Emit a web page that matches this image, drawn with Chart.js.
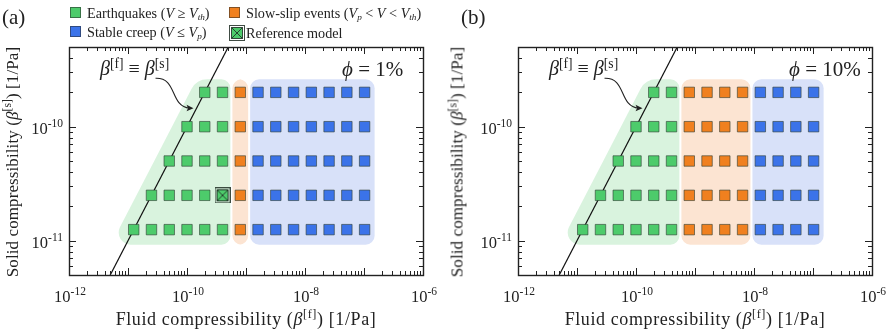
<!DOCTYPE html>
<html>
<head>
<meta charset="utf-8">
<script src="https://cdn.jsdelivr.net/npm/chart.js@4/dist/chart.umd.min.js"></script>
<style>
  html, body { margin:0; padding:0; background:#fff; }
  #wrap { position:relative; width:890px; height:335px; overflow:hidden; font-family:"Liberation Serif", serif; color:#222; }
  canvas { position:absolute; top:0; }
  .t { position:absolute; white-space:nowrap; line-height:1; }
  .box { display:inline-block; width:9px; height:9px; border:1px solid rgba(40,40,40,0.55); margin-right:6px; vertical-align:0px; }
  .rot { transform: translate(-50%,-50%) rotate(-90deg); }
  .ctr { transform: translate(-50%,-50%); }
  sup { font-size:68%; vertical-align: 0.55em; line-height:0; }
  sub { font-size:65%; vertical-align: -0.25em; line-height:0; }
</style>
</head>
<body>
<div id="wrap">
  <canvas id="c1" width="445" height="335" style="left:0"></canvas>
  <canvas id="c2" width="445" height="335" style="left:445px"></canvas>

  <div class="t" style="left:2px;top:7px;font-size:21px">(a)</div>
  <div class="t" style="left:461px;top:7px;font-size:21px">(b)</div>

  <div class="t" style="left:70px;top:6px;font-size:14.2px"><span class="box" style="background:#4dcb6b"></span>Earthquakes (<i>V</i> ≥ <i>V<sub>th</sub></i>)</div>
  <div class="t" style="left:229px;top:6px;font-size:14.2px"><span class="box" style="background:#f0801f"></span>Slow-slip events (<i>V<sub>p</sub></i> &lt; <i>V</i> &lt; <i>V<sub>th</sub></i>)</div>
  <div class="t" style="left:70px;top:25px;font-size:14.2px"><span class="box" style="background:#3b73e9"></span>Stable creep (<i>V</i> ≤ <i>V<sub>p</sub></i>)</div>
  <div class="t" style="left:229px;top:25px;font-size:14.2px"><span id="refIcon" style="display:inline-block;width:16px;height:16px;vertical-align:-3px;margin-right:1px"></span>Reference model</div>

  <div class="t" style="left:100px;top:58px;font-size:20px"><i>β</i><sup>[f]</sup> ≡ <i>β</i><sup>[s]</sup></div>
  <div class="t" style="left:549px;top:58px;font-size:20px"><i>β</i><sup>[f]</sup> ≡ <i>β</i><sup>[s]</sup></div>
  <div class="t" style="left:342px;top:59px;font-size:21px"><i>ϕ</i> = 1%</div>
  <div class="t" style="left:789px;top:59px;font-size:21px"><i>ϕ</i> = 10%</div>

  <div class="t ctr" style="left:246px;top:319px;font-size:18px;letter-spacing:0.6px">Fluid compressibility (<i>β</i><sup>[f]</sup>) [1/Pa]</div>
  <div class="t ctr" style="left:695px;top:319px;font-size:18px;letter-spacing:0.6px">Fluid compressibility (<i>β</i><sup>[f]</sup>) [1/Pa]</div>
  <div class="t rot" style="left:12px;top:162px;font-size:17px;letter-spacing:0.1px">Solid compressibility (<i>β</i><sup>[s]</sup>) [1/Pa]</div>
  <div class="t rot" style="left:457px;top:162px;font-size:17px;letter-spacing:0.1px">Solid compressibility (<i>β</i><sup>[s]</sup>) [1/Pa]</div>
</div>
<script>
// ---------------- data ----------------
const fluidCompressibility = [1.25e-11, 2.5e-11, 5e-11, 1e-10, 2e-10, 4e-10, 8e-10, 1.6e-9, 3.2e-9, 6.4e-9, 1.28e-8, 2.56e-8, 5.12e-8, 1.024e-7];
const solidCompressibility = [1.25e-11, 2.5e-11, 5e-11, 1e-10, 2e-10];
const firstColumnOfRow = [0, 1, 2, 3, 4];
const regimePhi1  = ['EQ','EQ','EQ','EQ','EQ','EQ','SSE','SC','SC','SC','SC','SC','SC','SC'];
const regimePhi10 = ['EQ','EQ','EQ','EQ','EQ','EQ','SSE','SSE','SSE','SSE','SC','SC','SC','SC'];
const referenceModel = [{x: 4e-10, y: 2.5e-11}];
const equalityLine = [{x: 1e-12, y: 1e-12}, {x: 1e-9, y: 1e-9}];
const xTickLabels = [1e-12, 1e-10, 1e-8, 1e-6];
const yTickLabels = [1e-11, 1e-10];
const xRange = [1e-12, 1e-6];
const yRange = [5e-12, 5e-10];

// ---------------- styles ----------------
const COL = { EQ:'#4dcb6b', SSE:'#f0801f', SC:'#3b73e9' };
const REG = { EQ:'#d9f3de', SSE:'#fce4d2', SC:'#d8e1f9' };
const EDGE = 'rgba(45,60,50,0.6)';
const FONT = '"Liberation Serif", serif';

function pointsFor(regime, code) {
  const out = [];
  solidCompressibility.forEach((s, r) => {
    fluidCompressibility.forEach((f, c) => {
      if (c >= firstColumnOfRow[r] && regime[c] === code) out.push({x: f, y: s});
    });
  });
  return out;
}

function refMarker() {
  const cv = document.createElement('canvas');
  cv.width = 16; cv.height = 16;
  const g = cv.getContext('2d');
  g.fillStyle = COL.EQ; g.fillRect(2.5, 2.5, 11, 11);
  g.strokeStyle = 'rgba(30,45,35,0.85)'; g.lineWidth = 1;
  g.strokeRect(2.5, 2.5, 11, 11);
  g.strokeRect(0.5, 0.5, 15, 15);
  g.beginPath(); g.moveTo(3, 3); g.lineTo(13, 13); g.moveTo(13, 3); g.lineTo(3, 13); g.stroke();
  return cv;
}
const REF = refMarker();
document.getElementById('refIcon').appendChild(refMarker());

function expOf(v) { return Math.round(Math.log10(v)); }

function roundedPoly(ctx, pts, radii) {
  const n = pts.length;
  const m = {x:(pts[n-1].x + pts[0].x)/2, y:(pts[n-1].y + pts[0].y)/2};
  ctx.beginPath();
  ctx.moveTo(m.x, m.y);
  for (let i = 0; i < n; i++) {
    const p = pts[i], q = pts[(i+1)%n];
    ctx.arcTo(p.x, p.y, q.x, q.y, radii[i]);
  }
  ctx.closePath();
  ctx.fill();
}

// draws "10" with a raised exponent; align: 'center' or 'right'
function drawPow(ctx, v, x, baseline, align) {
  const base = '10', ex = String(expOf(v));
  ctx.font = '16.5px ' + FONT;
  const wb = ctx.measureText(base).width;
  ctx.font = '11.5px ' + FONT;
  const we = ctx.measureText(ex).width;
  const w = wb + we;
  const x0 = align === 'right' ? x - w : x - w / 2;
  ctx.textAlign = 'left';
  ctx.textBaseline = 'alphabetic';
  ctx.font = '16.5px ' + FONT;
  ctx.fillText(base, x0, baseline);
  ctx.font = '11.5px ' + FONT;
  ctx.fillText(ex, x0 + wb, baseline - 7);
}

const regionsPlugin = {
  id: 'regions',
  beforeDatasetsDraw(chart, args, opts) {
    const xs = chart.scales.x, ys = chart.scales.y, ctx = chart.ctx;
    const regime = opts.regime;
    const px = c => xs.getPixelForValue(fluidCompressibility[c]);
    const py = r => ys.getPixelForValue(solidCompressibility[r]);
    const top = py(solidCompressibility.length - 1) - 13;
    const bot = py(0) + 15;
    const groups = [];
    regime.forEach((code, c) => {
      if (!groups.length || groups[groups.length-1].code !== code) groups.push({code, c0:c, c1:c});
      else groups[groups.length-1].c1 = c;
    });
    ctx.save();
    groups.forEach((g, i) => {
      const left = i === 0 ? null : (px(g.c0 - 1) + px(g.c0)) / 2 + 1;
      const right = i === groups.length - 1 ? px(g.c1) + 10 : (px(g.c1) + px(g.c1 + 1)) / 2 - 1;
      ctx.fillStyle = REG[g.code];
      if (left === null) {
        const diagX = y => xs.getPixelForValue(ys.getValueForPixel(y));
        const pts = [
          {x: diagX(top) - 15, y: top},
          {x: right, y: top},
          {x: right, y: bot},
          {x: diagX(bot) - 15, y: bot}
        ];
        roundedPoly(ctx, pts, [18, 9, 9, 12]);
      } else {
        const pts = [{x:left,y:top},{x:right,y:top},{x:right,y:bot},{x:left,y:bot}];
        roundedPoly(ctx, pts, [9, 9, 9, 9]);
      }
    });
    ctx.restore();
  },
  afterDraw(chart) {
    const xs = chart.scales.x, ys = chart.scales.y, ctx = chart.ctx;
    const a = chart.chartArea;
    ctx.save();
    ctx.strokeStyle = '#222';
    ctx.fillStyle = '#222';
    ctx.lineWidth = 1;
    ctx.beginPath();
    const lx0 = Math.floor(Math.log10(xRange[0])), lx1 = Math.ceil(Math.log10(xRange[1]));
    for (let e = lx0; e <= lx1; e++) {
      for (let k = 1; k <= 9; k++) {
        const v = k * Math.pow(10, e);
        if (v < xRange[0] * 0.999 || v > xRange[1] * 1.001) continue;
        const x = Math.round(xs.getPixelForValue(v)) + 0.5;
        const L = k === 1 ? 7 : 4;
        ctx.moveTo(x, a.bottom); ctx.lineTo(x, a.bottom - L);
        ctx.moveTo(x, a.top); ctx.lineTo(x, a.top + L);
      }
    }
    const ly0 = Math.floor(Math.log10(yRange[0])), ly1 = Math.ceil(Math.log10(yRange[1]));
    for (let e = ly0; e <= ly1; e++) {
      for (let k = 1; k <= 9; k++) {
        const v = k * Math.pow(10, e);
        if (v < yRange[0] * 0.999 || v > yRange[1] * 1.001) continue;
        const y = Math.round(ys.getPixelForValue(v)) + 0.5;
        const L = k === 1 ? 7 : 4;
        ctx.moveTo(a.left, y); ctx.lineTo(a.left + L, y);
        ctx.moveTo(a.right, y); ctx.lineTo(a.right - L, y);
      }
    }
    ctx.stroke();
    ctx.lineWidth = 1.4;
    ctx.strokeRect(Math.round(a.left) + 0.5, Math.round(a.top) + 0.5, Math.round(a.right - a.left), Math.round(a.bottom - a.top));

    xTickLabels.forEach(v => drawPow(ctx, v, xs.getPixelForValue(v) + 1, a.bottom + 27, 'center'));
    yTickLabels.forEach(v => drawPow(ctx, v, a.left - 6, ys.getPixelForValue(v) + 7, 'right'));

    const yTip = ys.getPixelForValue(1.45e-10);
    const xTip = xs.getPixelForValue(1.45e-10) - 4;
    const sx = xTip - 37, sy = yTip - 30;
    ctx.lineWidth = 1.1;
    ctx.beginPath();
    ctx.moveTo(sx, sy);
    ctx.bezierCurveTo(sx + 22, sy - 1, sx + 14, yTip - 2, xTip - 3, yTip);
    ctx.stroke();
    ctx.beginPath();
    ctx.moveTo(xTip + 1, yTip);
    ctx.lineTo(xTip - 6, yTip - 3.5);
    ctx.lineTo(xTip - 4.5, yTip);
    ctx.lineTo(xTip - 6, yTip + 3);
    ctx.closePath();
    ctx.fill();
    ctx.restore();
  }
};

function makeChart(id, regime, withRef, yAxisWidth, padRight) {
  const ds = [
    { label: 'Equality line', type: 'line', data: equalityLine, borderColor: '#111', borderWidth: 1.2, pointRadius: 0, fill: false, order: 10 },
    { label: 'Earthquakes', data: pointsFor(regime, 'EQ'), backgroundColor: COL.EQ, borderColor: EDGE, borderWidth: 1, pointStyle: 'rect', pointRadius: 7.4, order: 3 },
    { label: 'Slow-slip events', data: pointsFor(regime, 'SSE'), backgroundColor: COL.SSE, borderColor: EDGE, borderWidth: 1, pointStyle: 'rect', pointRadius: 7.4, order: 3 },
    { label: 'Stable creep', data: pointsFor(regime, 'SC'), backgroundColor: COL.SC, borderColor: EDGE, borderWidth: 1, pointStyle: 'rect', pointRadius: 7.4, order: 3 }
  ];
  if (withRef) ds.push({ label: 'Reference model', data: referenceModel, pointStyle: REF, pointRadius: 8, order: 1 });
  return new Chart(document.getElementById(id), {
    type: 'scatter',
    data: { datasets: ds },
    options: {
      responsive: false, animation: false, devicePixelRatio: 1, events: [],
      layout: { padding: { top: 47, right: padRight, bottom: 0, left: 0 } },
      plugins: { legend: { display: false }, tooltip: { enabled: false }, regions: { regime } },
      scales: {
        x: {
          type: 'logarithmic', min: xRange[0], max: xRange[1], position: 'bottom',
          grid: { display: false, drawTicks: false }, border: { display: false },
          ticks: { display: false },
          afterFit: s => { s.height = 60; }
        },
        y: {
          type: 'logarithmic', min: yRange[0], max: yRange[1], position: 'left',
          grid: { display: false, drawTicks: false }, border: { display: false },
          ticks: { display: false },
          afterFit: s => { s.width = yAxisWidth; }
        }
      }
    },
    plugins: [regionsPlugin]
  });
}

makeChart('c1', regimePhi1, true, 69, 22);
makeChart('c2', regimePhi10, false, 73, 18);
</script>
</body>
</html>
